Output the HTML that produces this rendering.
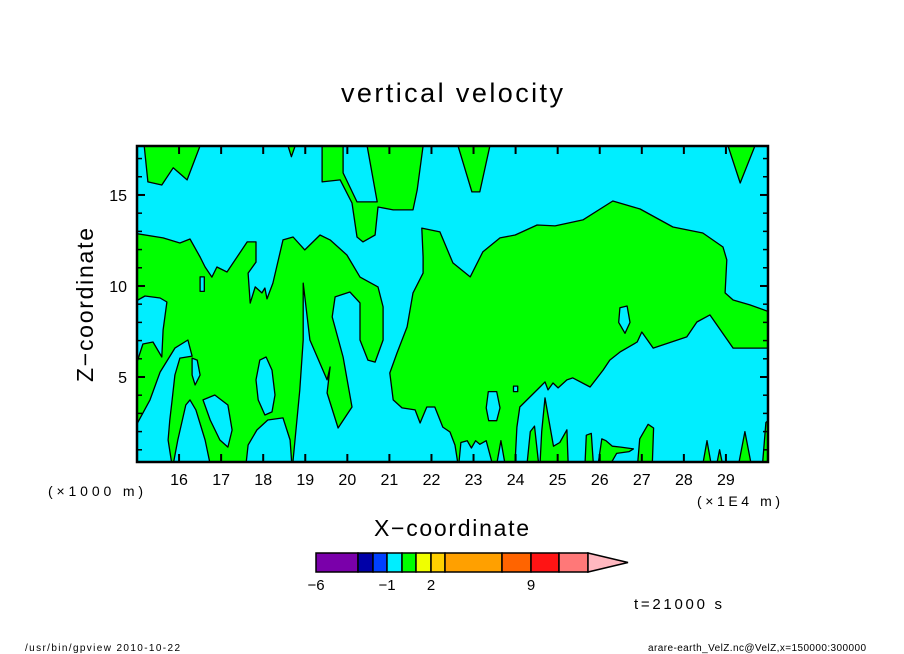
<!DOCTYPE html>
<html><head><meta charset="utf-8"><style>
body{margin:0;background:#fff;}
svg{display:block;font-family:"Liberation Sans",sans-serif;}
</style></head><body>
<svg id="chart" width="904" height="654" viewBox="0 0 904 654">
<text x="341" y="102" font-size="27" textLength="222" lengthAdjust="spacing">vertical velocity</text>
<defs><clipPath id="pc"><rect x="137" y="146" width="631" height="316"/></clipPath></defs>
<rect x="137" y="146" width="631" height="316" fill="#00eeff"/>
<g id="contours" clip-path="url(#pc)"></g>
<g id="axes"></g>
<text x="48" y="496" font-size="14" textLength="95" lengthAdjust="spacing">(×1000 m)</text>
<text x="697" y="506" font-size="14" textLength="83" lengthAdjust="spacing">(×1E4 m)</text>
<text x="374" y="536" font-size="23" textLength="155" lengthAdjust="spacing">X−coordinate</text>
<text transform="translate(93,382) rotate(-90)" font-size="23" textLength="154" lengthAdjust="spacing">Z−coordinate</text>
<g id="cbar"></g>
<text x="634" y="609" font-size="15" textLength="88" lengthAdjust="spacing">t=21000 s</text>
<text x="25" y="651" font-size="10" textLength="155" lengthAdjust="spacing">/usr/bin/gpview  2010-10-22</text>
<text x="648" y="651" font-size="10" textLength="218" lengthAdjust="spacing">arare-earth_VelZ.nc@VelZ,x=150000:300000</text>
</svg>
<script>
const xDomain=[15,30];
const zDomain=[0.33,17.69];
const xTicks=[16,17,18,19,20,21,22,23,24,25,26,27,28,29];
const zMajor=[5,10,15];
const zMinor=[1,2,3,4,6,7,8,9,11,12,13,14,16,17];
const greenRegions=[
 [[15.17,17.7],[15.26,15.72],[15.59,15.55],[15.86,16.49],[16.19,15.83],[16.5,17.7]],
 [[18.59,17.7],[18.67,17.1],[18.76,17.7]],
 [[19.4,17.7],[19.4,15.72],[19.83,15.83],[20.11,14.56],[20.23,12.69],[20.37,12.42],[20.66,12.8],[20.73,14.34],[21.09,14.18],[21.56,14.18],[21.66,15.28],[21.8,17.7],[20.47,17.7],[20.71,14.62],[20.23,14.62],[19.9,16.21],[19.9,17.7]],
 [[22.63,17.7],[22.96,15.17],[23.15,15.17],[23.39,17.7]],
 [[29.05,17.7],[29.34,15.66],[29.69,17.7]],
 [[14.9,12.91],[15.62,12.64],[16.02,12.36],[16.26,12.58],[16.5,11.59],[16.62,11.04],[16.78,10.49],[16.9,11.04],[17.14,10.77],[17.62,12.42],[17.83,12.42],[17.83,11.31],[17.64,10.71],[17.69,9.06],[17.81,9.95],[17.97,9.62],[18.04,9.89],[18.09,9.29],[18.23,10.16],[18.47,12.53],[18.71,12.69],[18.99,11.98],[19.35,12.8],[19.59,12.53],[19.99,11.7],[20.3,10.49],[20.73,9.95],[20.85,8.85],[20.85,7.03],[20.66,5.82],[20.49,5.93],[20.3,7.03],[20.3,9.07],[20.06,9.67],[19.71,9.4],[19.64,8.3],[19.9,6.1],[20.11,3.35],[19.78,2.2],[19.52,4.12],[19.59,5.55],[19.52,4.84],[19.11,7.03],[18.95,10.16],[18.95,7.03],[18.87,4.29],[18.71,0.44],[18.71,0.2],[14.9,0.2]],
 [[21.77,13.18],[22.2,12.97],[22.51,11.27],[22.92,10.5],[23.22,11.87],[23.63,12.64],[23.99,12.8],[24.51,13.35],[24.94,13.3],[25.6,13.63],[26.31,14.67],[26.96,14.23],[27.74,13.24],[28.45,12.91],[28.93,12.14],[29.02,11.43],[28.98,9.62],[29.17,9.23],[29.57,8.96],[30.1,8.52],[30.1,6.59],[29.17,6.59],[28.62,8.41],[28.31,8.02],[28.07,7.2],[27.27,6.59],[27.0,7.47],[26.89,6.92],[26.48,6.37],[26.24,5.93],[26.08,5.38],[25.77,4.45],[25.36,4.95],[25.22,4.84],[25.01,4.4],[24.89,4.67],[24.77,4.29],[24.7,4.73],[24.58,4.45],[24.34,3.9],[24.1,3.35],[24.03,2.25],[23.99,0.44],[23.99,0.2],[22.63,0.2],[22.56,1.26],[22.44,1.98],[22.27,2.25],[22.08,3.35],[21.89,3.35],[21.73,2.47],[21.61,3.19],[21.3,3.3],[21.09,3.74],[21.01,5.22],[21.18,6.32],[21.42,7.75],[21.56,9.62],[21.8,10.71],[21.8,11.59]],
 [[24.27,0.2],[24.35,2.0],[24.45,2.3],[24.55,0.2]],
 [[24.58,0.2],[24.62,2.0],[24.7,3.85],[24.8,2.5],[24.9,1.2],[25.05,1.4],[25.22,2.1],[25.25,0.2]],
 [[25.65,0.2],[25.68,1.8],[25.8,1.9],[25.85,0.2]],
 [[25.96,0.2],[26.05,1.6],[26.15,1.5],[26.3,1.2],[26.5,1.15],[26.8,1.05],[26.7,0.9],[26.4,0.8],[26.25,0.2]],
 [[26.9,0.2],[26.95,1.6],[27.15,2.4],[27.28,2.2],[27.25,0.2]],
 [[28.45,0.2],[28.55,1.5],[28.65,0.2]],
 [[28.78,0.2],[28.85,1.0],[28.92,0.2]],
 [[29.3,0.2],[29.45,2.0],[29.6,0.2]],
 [[29.87,0.2],[29.95,2.5],[30.1,2.8],[30.1,0.2]]
];
const cyanHoles=[
 [[14.9,9.07],[15.19,9.45],[15.55,9.34],[15.71,9.12],[15.62,7.58],[15.59,6.1],[15.38,6.92],[15.14,6.81],[14.9,5.11]],
 [[14.9,0.2],[14.9,2.0],[15.31,3.74],[15.55,5.27],[15.9,6.59],[16.21,7.03],[16.31,6.15],[16.02,6.04],[15.9,5.11],[15.83,3.63],[15.78,2.64],[15.74,1.54],[15.83,0.2]],
 [[15.86,0.2],[15.97,1.54],[16.16,3.46],[16.26,3.74],[16.4,3.19],[16.62,1.54],[16.74,0.2]],
 [[16.57,3.74],[16.74,2.64],[16.97,1.54],[17.16,1.15],[17.26,2.09],[17.16,3.46],[16.85,4.01]],
 [[17.92,5.93],[17.83,4.84],[17.88,3.74],[18.04,2.91],[18.21,3.08],[18.28,4.01],[18.21,5.38],[18.07,6.1]],
 [[17.59,0.2],[17.64,1.26],[17.85,2.09],[18.11,2.64],[18.47,2.75],[18.64,1.54],[18.68,0.2]],
 [[16.31,6.04],[16.43,5.93],[16.5,5.11],[16.38,4.56],[16.31,5.11]],
 [[16.5,10.5],[16.6,10.5],[16.6,9.7],[16.5,9.7]],
 [[23.35,4.2],[23.55,4.2],[23.63,3.3],[23.55,2.6],[23.36,2.6],[23.3,3.3]],
 [[23.95,4.5],[24.05,4.5],[24.05,4.2],[23.95,4.2]],
 [[26.48,8.8],[26.65,8.9],[26.72,8.0],[26.6,7.4],[26.45,8.0]],
 [[22.65,0.2],[22.7,1.4],[22.85,1.5],[22.95,1.1],[23.05,1.5],[23.15,1.3],[23.3,1.5],[23.45,0.2]],
 [[23.55,0.2],[23.65,1.5],[23.75,0.2]]
];
const cbarLevels=[-6,-3,-2,-1,0,1,2,3,7,9,11,13];
const cbarColors=["#7a00aa","#0000a8","#0040ff","#00eeff","#00ff00","#f0ff00","#ffd000","#ffa000","#ff6400","#ff1414","#ff7878"];
const cbarLabels=[-6,-1,2,9];
const overColor="#ffb8c0";

const NS="http://www.w3.org/2000/svg";
const X0=137,X1=768,Y0=462,Y1=146;
function sx(v){return X0+(v-xDomain[0])/(xDomain[1]-xDomain[0])*(X1-X0);}
function sz(v){return Y0-(v-zDomain[0])/(zDomain[1]-zDomain[0])*(Y0-Y1);}
function mk(tag,attrs,parent){const e=document.createElementNS(NS,tag);for(const k in attrs)e.setAttribute(k,attrs[k]);parent.appendChild(e);return e;}
const cg=document.getElementById('contours');
function poly(pts){return pts.map(p=>sx(p[0]).toFixed(1)+','+sz(p[1]).toFixed(1)).join(' ');}
greenRegions.forEach((r,i)=>{
 const e=mk('polygon',{points:poly(r),fill:'#00ff00',stroke:'#000','stroke-width':1.3,'stroke-linejoin':'round'},cg);
 
 
});
cyanHoles.forEach((r,i)=>{
 const e=mk('polygon',{points:poly(r),fill:'#00eeff',stroke:'#000','stroke-width':1.3,'stroke-linejoin':'round'},cg);
 
 
});
const ax=document.getElementById('axes');
const fr=mk('rect',{x:X0,y:Y1,width:X1-X0,height:Y0-Y1,fill:'none',stroke:'#000','stroke-width':2.5},ax);


xTicks.forEach(v=>{
 const x=sx(v);
 mk('line',{x1:x,y1:Y0,x2:x,y2:Y0-8,stroke:'#000','stroke-width':2},ax);
 mk('line',{x1:x,y1:Y1,x2:x,y2:Y1+8,stroke:'#000','stroke-width':2},ax);
 const t=mk('text',{x:x,y:Y0+23,'font-size':16,'text-anchor':'middle'},ax);
 t.textContent=v;
 
 
});
zMajor.forEach(v=>{
 const y=sz(v);
 mk('line',{x1:X0,y1:y,x2:X0+8,y2:y,stroke:'#000','stroke-width':2},ax);
 mk('line',{x1:X1,y1:y,x2:X1-8,y2:y,stroke:'#000','stroke-width':2},ax);
 const t=mk('text',{x:X0-10,y:y+6,'font-size':16,'text-anchor':'end'},ax);
 t.textContent=v;
 
 
});
zMinor.forEach(v=>{
 const y=sz(v);
 mk('line',{x1:X0,y1:y,x2:X0+5,y2:y,stroke:'#000','stroke-width':1.5},ax);
 mk('line',{x1:X1,y1:y,x2:X1-5,y2:y,stroke:'#000','stroke-width':1.5},ax);
});
const cb=document.getElementById('cbar');
const CB0=316,CB1=588,CBy=553,CBh=19;
const bounds=[316,358,373,387,402,416,431,445,502,531,559,588];
function cbx(level){
 const i=cbarLevels.indexOf(level);
 return i>=0?bounds[i]:CB0;
}
cbarColors.forEach((c,i)=>{
 const x0=cbx(cbarLevels[i]),x1=cbx(cbarLevels[i+1]);
 const r=mk('rect',{x:x0,y:CBy,width:x1-x0,height:CBh,fill:c,stroke:'#000','stroke-width':1.5},cb);
 
 
});
const tri=mk('polygon',{points:`${CB1},${CBy} ${CB1+40},${CBy+CBh/2} ${CB1},${CBy+CBh}`,fill:overColor,stroke:'#000','stroke-width':1.5},cb);


cbarLabels.forEach(v=>{
 const t=mk('text',{x:cbx(v),y:CBy+CBh+18,'font-size':15,'text-anchor':'middle'},cb);
 t.textContent=(v<0?'−'+(-v):String(v));
 
 
});
</script>
</body></html>
